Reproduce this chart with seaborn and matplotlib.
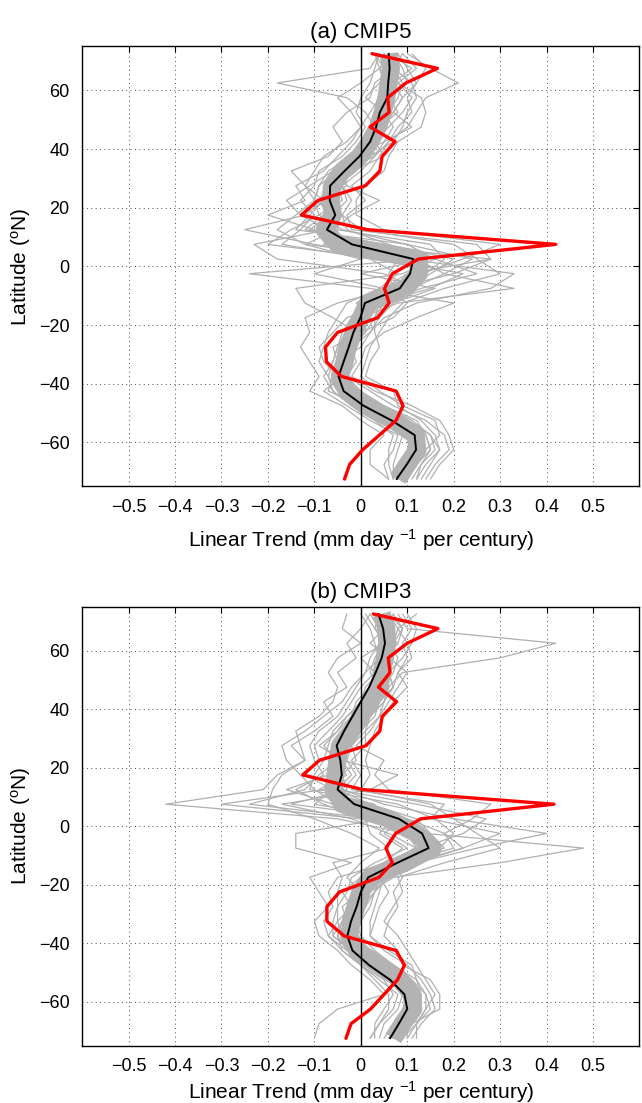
import numpy as np
import pandas as pd
import seaborn as sns
import matplotlib.pyplot as plt

# latitude bands, north to south
lats = [72.5, 67.5, 62.5, 57.5, 52.5, 47.5, 42.5, 37.5, 32.5, 27.5,
        22.5, 17.5, 12.5, 7.5, 2.5, -2.5, -7.5, -12.5, -17.5, -22.5,
        -27.5, -32.5, -37.5, -42.5, -47.5, -52.5, -57.5, -62.5, -67.5, -72.5]

xtick_vals = [-0.5, -0.4, -0.3, -0.2, -0.1, 0, 0.1, 0.2, 0.3, 0.4, 0.5]
xtick_labels = ["\u22120.5", "\u22120.4", "\u22120.3", "\u22120.2", "\u22120.1", "0",
                "0.1", "0.2", "0.3", "0.4", "0.5"]
ytick_vals = [-60, -40, -20, 0, 20, 40, 60]
ytick_labels = ["\u221260", "\u221240", "\u221220", "0", "20", "40", "60"]

# ---- (a) CMIP5 ----
obs_a = [0.024, 0.165, 0.097, 0.058, 0.061, 0.020, 0.074, 0.046, 0.041, 0.010,
         -0.092, -0.128, 0.015, 0.420, 0.124, 0.068, 0.051, 0.061, 0.036, -0.050,
         -0.076, -0.074, -0.042, 0.076, 0.091, 0.076, 0.040, 0.004, -0.024, -0.035]
mean_a = [0.060, 0.062, 0.059, 0.057, 0.041, 0.033, 0.020, -0.003, -0.035, -0.066,
          -0.067, -0.055, -0.073, -0.019, 0.113, 0.106, 0.084, 0.009, -0.001, -0.016,
          -0.026, -0.037, -0.048, -0.037, 0.006, 0.066, 0.116, 0.119, 0.099, 0.077]
band_a = [0.060, 0.065, 0.060, 0.055, 0.047, 0.037, 0.020, -0.002, -0.040, -0.062,
          -0.065, -0.060, -0.078, -0.050, 0.125, 0.125, 0.095, 0.015, 0.000, -0.015,
          -0.028, -0.035, -0.045, -0.030, 0.010, 0.070, 0.118, 0.122, 0.100, 0.080]
models_a = [
    [0.08, 0.10, 0.12, 0.09, 0.07, 0.05, 0.03, 0.01, -0.03, -0.06, -0.05, -0.08, -0.12, 0.05, 0.20,
     0.15, 0.10, 0.03, 0.01, -0.02, -0.04, -0.05, -0.06, -0.02, 0.03, 0.09, 0.14, 0.15, 0.12, 0.10],
    [0.04, 0.02, -0.18, -0.03, 0.01, 0.03, 0.01, -0.02, -0.07, -0.09, -0.10, -0.09, -0.15, -0.20, 0.05,
     0.22, 0.15, 0.04, -0.02, -0.04, -0.05, -0.06, -0.07, -0.05, -0.01, 0.05, 0.10, 0.11, 0.09, 0.07],
    [0.10, 0.15, 0.21, 0.14, 0.12, 0.10, 0.06, 0.04, 0.02, -0.02, 0.01, -0.03, -0.02, 0.25, 0.28,
     0.10, 0.05, -0.01, 0.02, 0.00, -0.01, -0.02, -0.03, 0.02, 0.07, 0.14, 0.18, 0.19, 0.16, 0.14],
    [0.05, 0.07, 0.03, 0.02, -0.03, -0.06, -0.04, -0.07, -0.15, -0.12, -0.08, -0.12, -0.25, -0.10, 0.10,
     0.33, 0.28, 0.12, 0.05, 0.02, -0.02, -0.03, -0.04, -0.08, -0.03, 0.02, 0.08, 0.07, 0.05, 0.06],
    [0.06, 0.04, 0.08, 0.11, 0.09, 0.06, 0.03, -0.03, -0.06, -0.11, -0.16, -0.13, -0.07, -0.23, -0.18,
     0.05, 0.12, 0.06, -0.03, -0.06, -0.09, -0.08, -0.05, -0.04, 0.00, 0.06, 0.12, 0.13, 0.11, 0.09],
    [0.03, 0.05, 0.06, 0.05, 0.03, 0.02, 0.00, 0.02, -0.04, -0.05, -0.07, -0.04, -0.03, 0.06, 0.16,
     0.09, -0.14, -0.12, -0.06, -0.01, -0.02, -0.01, -0.03, -0.01, 0.04, 0.08, 0.11, 0.10, 0.08, 0.08],
    [0.07, 0.09, 0.10, 0.06, 0.08, 0.04, 0.03, 0.05, -0.02, -0.07, -0.05, -0.07, -0.11, 0.02, 0.13,
     -0.24, 0.02, 0.20, 0.12, 0.05, 0.01, 0.00, -0.02, 0.03, 0.11, 0.17, 0.19, 0.20, 0.17, 0.15],
    [0.05, 0.06, 0.04, 0.01, 0.05, 0.07, 0.05, -0.01, -0.05, -0.03, 0.04, -0.02, -0.06, -0.08, 0.12,
     0.18, 0.33, 0.08, 0.00, -0.03, -0.05, -0.06, -0.08, -0.06, -0.02, 0.04, 0.10, 0.12, 0.10, 0.09],
    [0.07, 0.08, 0.06, 0.07, 0.06, 0.03, 0.02, -0.01, -0.03, -0.08, -0.06, -0.05, -0.09, -0.03, 0.28,
     0.20, 0.07, 0.00, 0.01, 0.01, -0.03, -0.04, -0.05, -0.04, 0.02, 0.10, 0.15, 0.16, 0.13, 0.11],
    [0.04, 0.06, 0.05, 0.04, 0.02, 0.00, -0.02, -0.05, -0.08, -0.14, -0.12, -0.20, -0.10, -0.05, 0.08,
     0.06, 0.07, -0.05, -0.12, -0.11, -0.13, -0.11, -0.09, -0.11, -0.04, 0.00, 0.05, 0.02, 0.02, 0.06],
    [0.06, 0.07, 0.09, 0.08, 0.06, 0.05, 0.04, 0.00, -0.02, -0.04, -0.03, -0.06, -0.05, 0.15, 0.18,
     0.14, 0.06, 0.02, 0.01, -0.01, -0.02, -0.03, -0.04, -0.02, 0.01, 0.07, 0.12, 0.13, 0.11, 0.08],
    [0.09, 0.12, 0.08, 0.13, 0.14, 0.13, 0.08, 0.06, 0.05, 0.01, -0.01, -0.01, 0.05, 0.30, 0.22,
     0.13, 0.08, 0.04, 0.03, 0.03, 0.04, 0.02, 0.01, 0.07, 0.08, 0.13, 0.16, 0.17, 0.14, 0.12],
    [0.05, 0.06, 0.07, 0.06, 0.04, 0.03, 0.01, -0.02, -0.06, -0.07, -0.09, -0.07, -0.08, -0.06, 0.10,
     0.11, 0.09, 0.01, -0.01, -0.02, -0.03, -0.04, -0.05, -0.03, 0.01, 0.06, 0.11, 0.12, 0.10, 0.08],
    [0.07, 0.05, 0.06, 0.05, 0.05, 0.04, 0.03, 0.01, -0.03, -0.05, -0.07, -0.06, -0.07, -0.04, 0.14,
     0.12, 0.10, 0.03, 0.00, -0.01, -0.03, -0.03, -0.04, -0.03, 0.02, 0.08, 0.12, 0.12, 0.10, 0.08],
    [0.03, 0.04, 0.00, -0.05, -0.02, 0.00, -0.03, -0.08, -0.10, -0.12, -0.10, -0.14, -0.18, -0.12, 0.00,
     -0.10, 0.05, 0.10, 0.07, 0.00, -0.06, -0.05, -0.06, -0.07, 0.00, 0.05, 0.09, 0.08, 0.07, 0.07],
    [0.11, 0.14, 0.12, 0.10, 0.11, 0.08, 0.06, 0.03, 0.00, -0.04, -0.02, -0.04, 0.00, 0.20, 0.25,
     0.30, 0.18, 0.09, 0.06, 0.04, 0.02, 0.01, 0.00, 0.04, 0.09, 0.16, 0.17, 0.14, 0.12, 0.10],
    [0.09, 0.07, 0.11, 0.12, 0.10, 0.09, 0.07, 0.02, -0.01, -0.05, -0.04, -0.09, -0.04, 0.10, 0.24,
     0.18, 0.11, 0.04, 0.02, 0.00, -0.01, -0.02, -0.03, 0.00, 0.05, 0.11, 0.15, 0.17, 0.15, 0.13],
    [0.04, 0.03, 0.02, 0.00, -0.01, 0.01, -0.01, -0.04, -0.09, -0.10, -0.13, -0.10, -0.13, -0.17, 0.02,
     0.08, 0.04, -0.03, -0.05, -0.07, -0.08, -0.09, -0.07, -0.06, -0.02, 0.03, 0.07, 0.06, 0.06, 0.07],
    [0.06, 0.11, 0.07, 0.09, 0.07, 0.11, 0.05, 0.03, -0.04, -0.03, -0.08, -0.11, -0.14, 0.10, 0.16,
     0.25, 0.13, 0.05, 0.03, 0.01, -0.02, -0.04, -0.04, -0.01, 0.05, 0.12, 0.14, 0.15, 0.13, 0.12],
    [0.08, 0.04, 0.05, 0.07, 0.03, 0.05, 0.02, 0.03, -0.05, -0.09, -0.10, -0.05, -0.05, -0.12, 0.14,
     0.00, 0.16, 0.07, 0.04, 0.02, 0.00, -0.05, -0.06, -0.02, 0.03, 0.09, 0.13, 0.14, 0.12, 0.09],
]

# ---- (b) CMIP3 ----
obs_b = [0.027, 0.166, 0.100, 0.059, 0.063, 0.038, 0.077, 0.046, 0.041, 0.011,
         -0.089, -0.125, 0.004, 0.416, 0.129, 0.075, 0.054, 0.068, 0.039, -0.046,
         -0.073, -0.073, -0.036, 0.076, 0.094, 0.079, 0.050, 0.021, -0.021, -0.032]
mean_b = [0.038, 0.048, 0.052, 0.045, 0.032, 0.018, 0.000, -0.018, -0.036, -0.052,
          -0.044, -0.041, -0.050, -0.014, 0.082, 0.132, 0.146, 0.079, 0.016, 0.000,
          -0.009, -0.021, -0.029, -0.018, 0.018, 0.063, 0.094, 0.100, 0.082, 0.063]
band_b = [0.045, 0.055, 0.057, 0.052, 0.045, 0.040, 0.020, 0.000, -0.020, -0.045,
          -0.050, -0.055, -0.058, -0.040, 0.060, 0.120, 0.155, 0.095, 0.020, 0.000,
          -0.010, -0.020, -0.025, -0.008, 0.040, 0.085, 0.110, 0.113, 0.090, 0.070]
models_b = [
    [0.02, 0.00, -0.03, -0.01, -0.05, -0.03, -0.08, -0.06, -0.10, -0.15, -0.12, -0.18, -0.21, -0.42, -0.05,
     0.10, 0.12, 0.06, -0.05, -0.07, -0.06, -0.08, -0.07, -0.03, 0.00, 0.04, 0.08, 0.07, 0.04, 0.02],
    [0.08, 0.10, 0.42, 0.30, 0.09, 0.06, 0.05, 0.02, 0.01, -0.02, -0.03, -0.01, -0.04, 0.05, 0.20,
     0.40, 0.25, 0.12, 0.05, 0.03, 0.02, 0.00, -0.01, 0.02, 0.07, 0.11, 0.14, 0.15, 0.12, 0.10],
    [0.05, 0.07, 0.06, 0.08, 0.07, 0.05, 0.03, 0.01, -0.03, -0.06, -0.07, -0.05, -0.08, -0.30, 0.00,
     0.14, 0.48, 0.30, 0.07, 0.02, 0.01, -0.02, -0.03, 0.00, 0.05, 0.09, 0.12, 0.13, 0.10, 0.08],
    [0.03, 0.04, 0.05, 0.03, 0.02, 0.04, 0.01, -0.03, -0.05, -0.08, -0.05, -0.09, -0.12, -0.24, 0.03,
     0.08, 0.16, 0.10, 0.03, -0.01, -0.03, -0.04, -0.05, -0.03, 0.02, 0.07, 0.10, 0.09, 0.07, 0.05],
    [0.06, 0.09, 0.07, 0.06, 0.10, 0.08, 0.06, 0.04, 0.02, -0.01, 0.05, 0.03, 0.06, 0.28, 0.24,
     0.18, 0.20, 0.09, 0.05, 0.04, 0.03, 0.02, 0.02, 0.05, 0.10, 0.13, 0.15, 0.16, 0.13, 0.11],
    [0.04, 0.03, 0.08, 0.05, 0.03, 0.00, -0.02, -0.04, -0.07, -0.10, -0.09, -0.12, -0.06, -0.10, 0.09,
     0.05, 0.10, 0.03, -0.02, -0.03, -0.05, -0.06, -0.06, -0.02, 0.03, 0.08, 0.11, 0.12, 0.10, 0.09],
    [0.10, 0.12, 0.11, 0.09, 0.06, 0.07, 0.04, 0.03, 0.00, -0.03, -0.04, -0.02, -0.05, 0.12, 0.27,
     0.22, 0.13, 0.07, 0.09, 0.07, 0.08, 0.06, 0.05, 0.08, 0.09, 0.15, 0.17, 0.17, 0.11, 0.06],
    [0.00, 0.02, 0.03, 0.04, 0.01, -0.02, -0.04, -0.08, -0.12, -0.17, -0.16, -0.13, -0.10, -0.05, 0.05,
     -0.14, -0.14, -0.02, -0.11, -0.09, -0.07, -0.10, -0.09, -0.05, -0.02, 0.02, 0.05, -0.05, -0.09, -0.10],
    [0.05, 0.06, 0.05, 0.04, 0.03, 0.02, 0.00, -0.01, -0.02, -0.04, -0.06, -0.07, -0.05, 0.02, 0.12,
     0.15, 0.18, 0.08, 0.02, 0.00, -0.01, -0.02, -0.03, -0.01, 0.04, 0.08, 0.10, 0.11, 0.09, 0.07],
    [0.07, 0.05, 0.04, 0.06, 0.04, 0.03, 0.01, -0.02, -0.04, -0.05, -0.04, 0.08, 0.02, -0.17, -0.02,
     0.06, 0.12, 0.13, 0.06, 0.03, 0.00, -0.03, -0.04, 0.01, 0.05, 0.10, 0.12, 0.12, 0.08, 0.07],
    [0.12, 0.08, 0.10, 0.11, 0.08, 0.10, 0.07, 0.05, 0.03, 0.02, 0.01, 0.02, 0.00, 0.15, 0.20,
     0.25, 0.30, 0.18, 0.08, 0.09, 0.07, 0.05, 0.08, 0.10, 0.12, 0.14, 0.16, 0.14, 0.12, 0.12],
    [0.02, 0.04, 0.04, 0.02, 0.01, -0.01, -0.03, -0.05, -0.09, -0.11, -0.10, -0.08, -0.14, -0.08, 0.01,
     0.02, 0.06, -0.06, -0.04, -0.05, -0.05, -0.05, -0.07, -0.04, 0.00, 0.05, 0.07, 0.05, 0.03, 0.03],
    [0.04, 0.06, 0.06, 0.06, 0.05, 0.04, 0.02, 0.00, -0.02, -0.05, -0.05, -0.06, -0.06, -0.04, 0.06,
     0.12, 0.15, 0.09, 0.02, 0.00, -0.01, -0.02, -0.03, -0.01, 0.04, 0.09, 0.11, 0.11, 0.09, 0.07],
    [0.06, 0.05, 0.07, 0.04, 0.05, 0.05, 0.03, 0.01, -0.01, -0.04, -0.05, -0.05, -0.07, -0.06, 0.07,
     0.11, 0.16, 0.10, 0.03, 0.01, 0.00, -0.01, -0.02, 0.00, 0.05, 0.08, 0.11, 0.11, 0.09, 0.07],
    [0.09, 0.11, 0.09, 0.10, 0.08, 0.07, 0.05, 0.04, 0.01, 0.01, -0.02, 0.00, -0.02, 0.18, 0.15,
     0.30, 0.22, 0.11, 0.04, 0.06, 0.04, 0.03, 0.02, 0.06, 0.11, 0.12, 0.13, 0.13, 0.10, 0.10],
    [-0.03, -0.04, 0.00, -0.05, -0.07, -0.05, -0.06, -0.09, -0.14, -0.13, -0.12, -0.17, -0.19, -0.20, -0.10,
     -0.02, 0.04, 0.00, -0.03, 0.00, -0.04, -0.03, -0.05, -0.04, 0.00, 0.03, 0.06, 0.06, 0.04, 0.02],
    [0.06, 0.08, 0.07, 0.07, 0.06, 0.07, 0.04, 0.02, 0.00, -0.02, -0.01, -0.04, -0.03, -0.15, 0.10,
     0.18, 0.22, 0.12, 0.05, 0.02, 0.01, 0.00, -0.01, 0.02, 0.06, 0.10, 0.13, 0.13, 0.10, 0.08],
    [0.03, 0.05, 0.02, 0.06, 0.04, 0.01, 0.00, -0.03, -0.06, -0.07, -0.08, -0.10, -0.11, 0.03, 0.04,
     0.09, 0.13, 0.07, 0.00, -0.02, -0.03, -0.04, -0.06, -0.02, 0.02, 0.06, 0.09, 0.10, 0.08, 0.06],
    [0.07, 0.09, 0.08, 0.05, 0.06, 0.06, 0.05, 0.02, -0.03, -0.04, -0.07, -0.03, -0.09, 0.08, 0.16,
     0.20, 0.17, 0.10, 0.04, 0.03, 0.01, -0.01, 0.00, 0.03, 0.07, 0.12, 0.14, 0.14, 0.12, 0.09],
    [0.01, 0.03, 0.05, 0.00, 0.03, 0.02, -0.01, -0.02, -0.05, -0.09, -0.04, -0.07, -0.16, -0.06, 0.07,
     0.04, 0.09, 0.05, 0.00, -0.04, -0.02, -0.05, -0.04, -0.01, 0.03, 0.07, 0.09, 0.08, 0.05, 0.04],
]


def models_frame(models):
    rows = []
    for i, m in enumerate(models):
        for lat, v in zip(lats, m):
            rows.append({"model": i, "lat": lat, "trend": v})
    return pd.DataFrame(rows)


def profile(ax, values, **kw):
    # one profile line, drawn in the listed order (no aggregation)
    df = pd.DataFrame({"lat": lats, "trend": values})
    sns.lineplot(data=df, x="trend", y="lat", estimator=None, sort=False,
                 orient="y", legend=False, ax=ax, **kw)


sns.set_theme(style="white")
plt.rcParams["font.family"] = ["Liberation Sans", "DejaVu Sans"]
plt.rcParams["mathtext.fontset"] = "custom"
plt.rcParams["mathtext.rm"] = "Liberation Sans"
plt.rcParams["mathtext.it"] = "Liberation Sans:italic"
plt.rcParams["text.color"] = "black"
plt.rcParams["axes.labelcolor"] = "black"

fig = plt.figure(figsize=(6.42, 11.03), dpi=100)
ax_a = fig.add_axes([0.128, 0.559, 0.868, 0.399])
ax_b = fig.add_axes([0.128, 0.052, 0.868, 0.398])

panels = [
    (ax_a, "(a) CMIP5", models_a, band_a, mean_a, obs_a, 8),
    (ax_b, "(b) CMIP3", models_b, band_b, mean_b, obs_b, 3),
]

for ax, title, models, band, mean, obs, xpad in panels:
    df = models_frame(models)
    sns.lineplot(data=df, x="trend", y="lat", units="model", estimator=None,
                 sort=False, orient="y", color="#b0b0b0", lw=0.9, legend=False, ax=ax)
    profile(ax, band, color="#b3b3b3", lw=13, solid_capstyle="butt",
            solid_joinstyle="round")
    ax.axvline(0, color="black", lw=1.0, zorder=3)
    profile(ax, mean, color="black", lw=1.4, zorder=4)
    profile(ax, obs, color="#ff0000", lw=2.4, zorder=5)

    ax.set_xlim(-0.6, 0.6)
    ax.set_ylim(-75, 75)
    ax.set_xticks(xtick_vals)
    ax.set_xticklabels(xtick_labels)
    ax.set_yticks(ytick_vals)
    ax.set_yticklabels(ytick_labels)
    ax.tick_params(direction="in", top=True, right=True, length=4, width=0.8,
                   labelsize=13, colors="black", pad=9)
    ax.grid(True, color="0.3", ls=(0, (1, 3.5)), lw=0.7)
    for s in ax.spines.values():
        s.set_color("black")
        s.set_linewidth(1.0)
    ax.set_xlabel(r"Linear Trend (mm day $^{\mathrm{-1}}$ per century)", fontsize=15, labelpad=xpad)
    ax.set_ylabel(r"Latitude ($^{\mathrm{o}}$N)", fontsize=15, labelpad=4)
    ax.set_title(title, fontsize=16, pad=6)

fig.savefig("out.png", dpi=100)
